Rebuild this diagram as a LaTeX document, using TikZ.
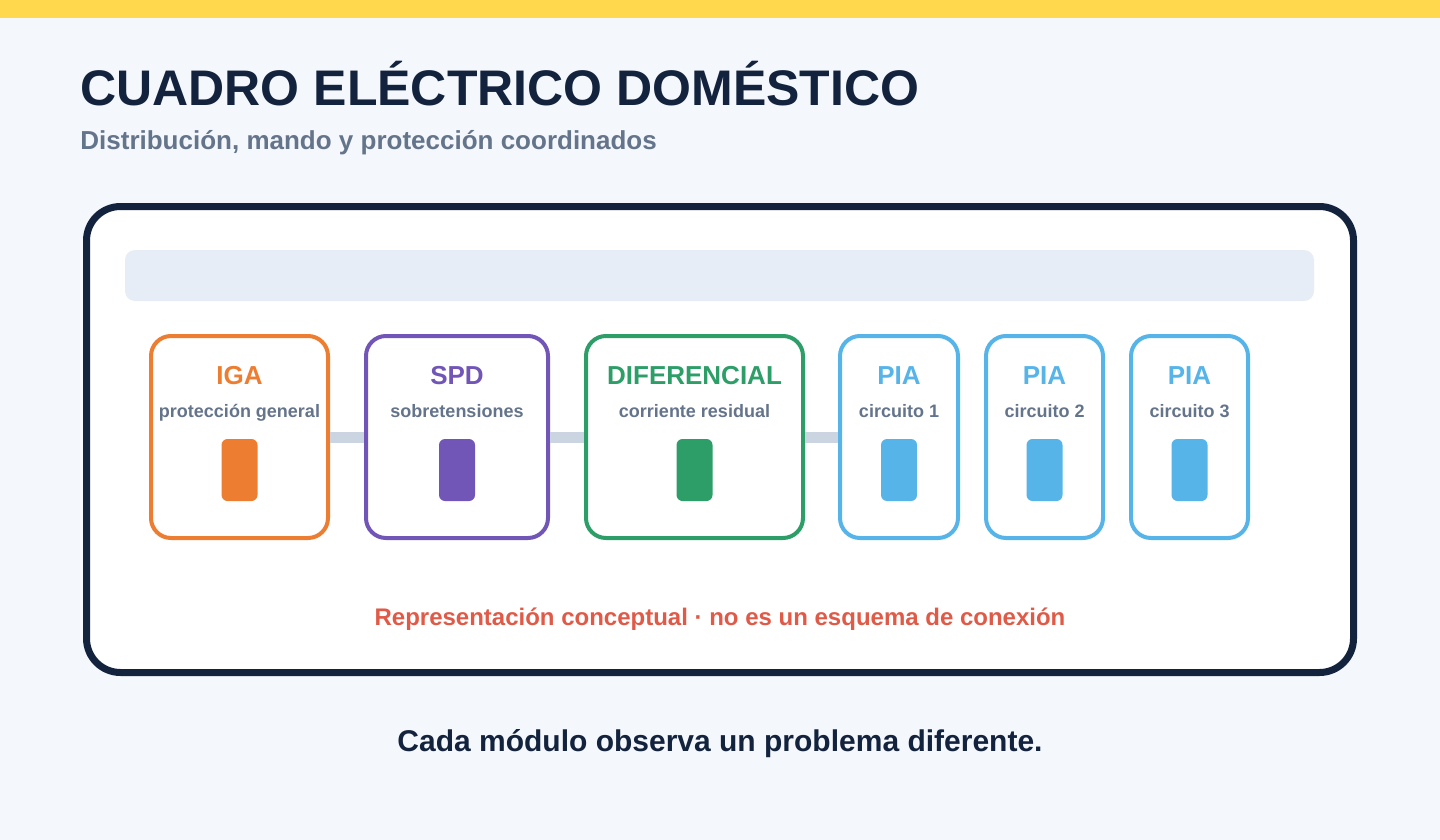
\documentclass[tikz,border=0pt]{standalone}
\usepackage{fontspec}
\setmainfont{Liberation Sans}
\definecolor{bgc}{HTML}{F4F7FC}
\definecolor{topbar}{HTML}{FFD84D}
\definecolor{navy}{HTML}{13233D}
\definecolor{greyt}{HTML}{64748B}
\definecolor{railc}{HTML}{E6EDF6}
\definecolor{connc}{HTML}{CBD5E1}
\definecolor{cIGA}{HTML}{ED7D31}
\definecolor{cSPD}{HTML}{7256B7}
\definecolor{cDIF}{HTML}{2E9E69}
\definecolor{cPIA}{HTML}{56B4E9}
\definecolor{redt}{HTML}{E05A47}
\begin{document}
\begin{tikzpicture}[x=0.5pt,y=-0.5pt,
  txt/.style={inner sep=0pt, anchor=base},
  module/.style={draw=#1, line width=2pt, rounded corners=10pt, fill=white, minimum height=101pt, inner sep=0pt},
  mtitle/.style={txt, text=#1, font=\bfseries\fontsize{13pt}{15pt}\selectfont},
  msub/.style={txt, text=greyt, font=\bfseries\fontsize{9pt}{11pt}\selectfont},
  switchbox/.style={fill=#1, draw=none, rounded corners=3pt, minimum width=18pt, minimum height=31pt, inner sep=0pt},
  conn/.style={draw=connc, line width=5.5pt}
]
\useasboundingbox (0,0) rectangle (1440,840);
\fill[bgc] (0,0) rectangle (1440,840);
\fill[topbar] (0,0) rectangle (1440,18);

\node[txt, anchor=base west, text=navy, font=\bfseries\fontsize{25pt}{30pt}\selectfont] (title) at (80,105) {CUADRO ELÉCTRICO DOMÉSTICO};
\node[txt, anchor=base west, text=greyt, font=\bfseries\fontsize{13pt}{16pt}\selectfont] (subtitle) at (80,149) {Distribución, mando y protección coordinados};

\node[draw=navy, line width=3.5pt, rounded corners=17pt, fill=white, minimum width=633.5pt, minimum height=233pt, inner sep=0pt] (panel) at (720,439.5) {};
\node[fill=railc, rounded corners=5pt, minimum width=594.5pt, minimum height=25.5pt, inner sep=0pt] (rail) at (719.5,275.5) {};

% modules
\node[module=cIGA, minimum width=88.5pt] (iga) at (239.5,437) {};
\node[mtitle=cIGA] (igat) at (239.5,384) {IGA};
\node[msub] (igas) at (239.5,417) {protección general};
\node[switchbox=cIGA] (igaw) at (239.5,470) {};

\node[module=cSPD, minimum width=91pt] (spd) at (457,437) {};
\node[mtitle=cSPD] (spdt) at (457,384) {SPD};
\node[msub] (spds) at (457,417) {sobretensiones};
\node[switchbox=cSPD] (spdw) at (457,470) {};

\node[module=cDIF, minimum width=108.5pt] (dif) at (694.5,437) {};
\node[mtitle=cDIF] (dift) at (694.5,384) {DIFERENCIAL};
\node[msub] (difs) at (694.5,417) {corriente residual};
\node[switchbox=cDIF] (difw) at (694.5,470) {};

\node[module=cPIA, minimum width=59pt] (pia1) at (899,437) {};
\node[mtitle=cPIA] (pia1t) at (899,384) {PIA};
\node[msub] (pia1s) at (899,417) {circuito 1};
\node[switchbox=cPIA] (pia1w) at (899,470) {};

\node[module=cPIA, minimum width=58.5pt] (pia2) at (1044.5,437) {};
\node[mtitle=cPIA] (pia2t) at (1044.5,384) {PIA};
\node[msub] (pia2s) at (1044.5,417) {circuito 2};
\node[switchbox=cPIA] (pia2w) at (1044.5,470) {};

\node[module=cPIA, minimum width=58.5pt] (pia3) at (1189.5,437) {};
\node[mtitle=cPIA] (pia3t) at (1189.5,384) {PIA};
\node[msub] (pia3s) at (1189.5,417) {circuito 3};
\node[switchbox=cPIA] (pia3w) at (1189.5,470) {};

% connectors
\draw[conn] (iga.east) -- (spd.west);
\draw[conn] (spd.east) -- (dif.west);
\draw[conn] (dif.east) -- (pia1.west);

\node[txt, text=redt, font=\bfseries\fontsize{12pt}{14pt}\selectfont] (note) at (720,625) {Representación conceptual · no es un esquema de conexión};
\node[txt, text=navy, font=\bfseries\fontsize{15pt}{18pt}\selectfont] (caption) at (720,751) {Cada módulo observa un problema diferente.};
\end{tikzpicture}
\end{document}
